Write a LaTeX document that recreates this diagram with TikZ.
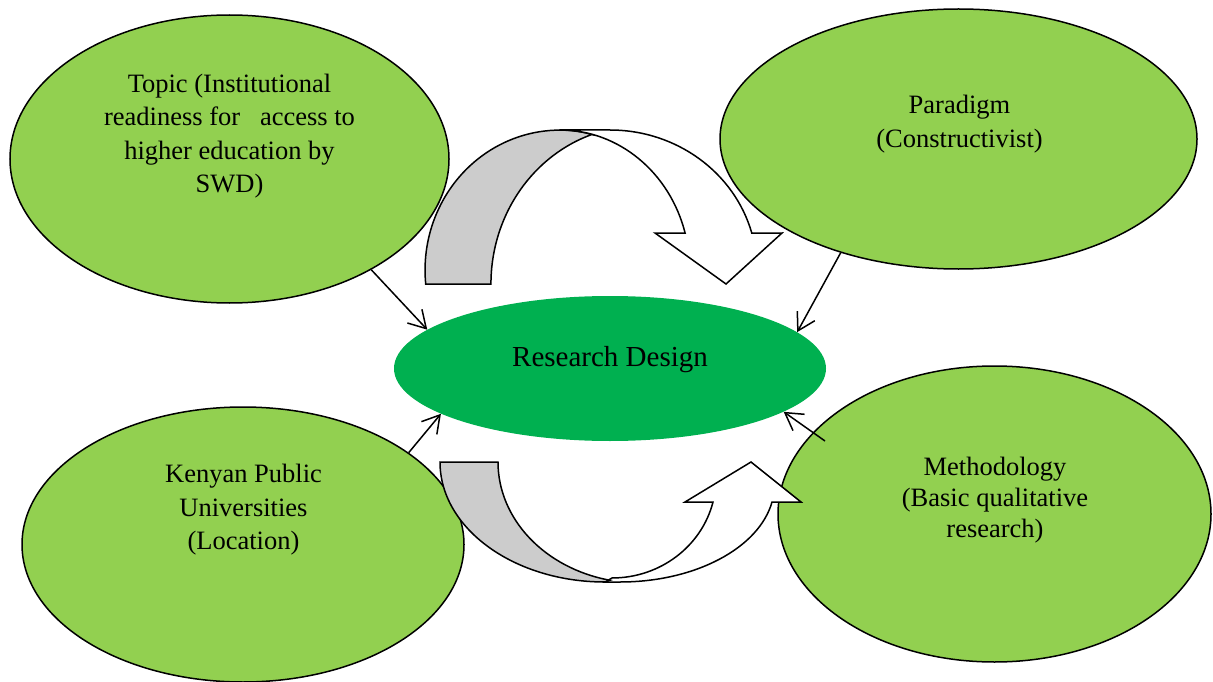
\documentclass[tikz,border=0pt]{standalone}
\usepackage{fontspec}
\setmainfont{Liberation Serif}
\usetikzlibrary{shapes.geometric,arrows.meta}
\definecolor{lgreen}{HTML}{92D050}
\definecolor{dgreen}{HTML}{00B050}
\definecolor{bandgray}{HTML}{CCCCCC}
\begin{document}
\begin{tikzpicture}[x=1pt,y=-1pt,
  bubble/.style={ellipse,draw=black,line width=1.5pt,fill=lgreen,inner sep=0pt},
  core/.style={ellipse,fill=dgreen,inner sep=0pt},
  txt/.style={align=center,font=\fontsize{26.5}{33.4}\selectfont,inner sep=0pt},
  link/.style={line width=1.5pt,-{Straight Barb[length=17pt,width=20pt]}},
  band/.style={draw=black,line width=1.5pt,line join=miter},
]
\useasboundingbox (0,0) rectangle (1213,682);
% ellipses
\node[bubble,minimum width=439pt,minimum height=288pt] (topic) at (229.5,159) {};
\node[bubble,minimum width=477pt,minimum height=260pt] (paradigm) at (958.5,139) {};
\node[bubble,minimum width=442pt,minimum height=275pt] (kenya) at (243,544.5) {};
\node[bubble,minimum width=433pt,minimum height=296pt] (method) at (994.5,514) {};
\node[core,minimum width=432pt,minimum height=145pt] (rd) at (610,368.5) {};
% top curved arrow
\draw[band,fill=bandgray] (425.7,284) arc[start angle=174.3,end angle=270,x radius=135,y radius=140]
  arc[start angle=270,end angle=285.4,x radius=129.7,y radius=140] -- (594.4,133.6)
  arc[start angle=252.2,end angle=180,x radius=149,y radius=158] -- cycle;
\draw[band,fill=white] (560,130) -- (610,130) arc[start angle=270,end angle=344.7,x radius=147,y radius=140]
  -- (782,233) -- (726,284) -- (655,233) -- (685.1,233)
  arc[start angle=344.7,end angle=270,x radius=129.7,y radius=140] -- cycle;
% bottom curved arrow
\draw[band,fill=white] (605,582) -- (620,582) arc[start angle=90,end angle=10.1,x radius=154.4,y radius=97]
  -- (801,502) -- (751,462) -- (685,502) -- (713,502)
  arc[start angle=13.9,end angle=90,x radius=104,y radius=100] -- cycle;
\draw[band,fill=bandgray] (440,462) -- (498,462) arc[start angle=180,end angle=102.2,x radius=142,y radius=121]
  -- (605,582) arc[start angle=90,end angle=180,x radius=165,y radius=120] -- cycle;
% straight arrows
\coordinate (mstart) at (825,441);
\draw[link] (topic.-38.7) -- (rd.168.6);
\draw[link] (paradigm.-136.1) -- (rd.11.9);
\draw[link] (kenya.29.6) -- (rd.195.2);
\draw[link] (mstart) -- (rd.-14.75);
% texts
\node[txt] (topictext) at (229.5,136) {Topic (Institutional\\readiness for~~~access to\\higher education by\\SWD)};
\node[txt] (paradigmtext) at (959.5,124) {Paradigm\\(Constructivist)};
\node[txt] (kenyatext) at (243.5,510) {Kenyan Public\\Universities\\(Location)};
\node[txt,font=\fontsize{26.5}{30.8}\selectfont] (methodtext) at (995,500) {Methodology\\(Basic qualitative\\research)};
\node[txt,font=\fontsize{29}{34}\selectfont] (rdtext) at (610,360) {Research Design};
\end{tikzpicture}
\end{document}
